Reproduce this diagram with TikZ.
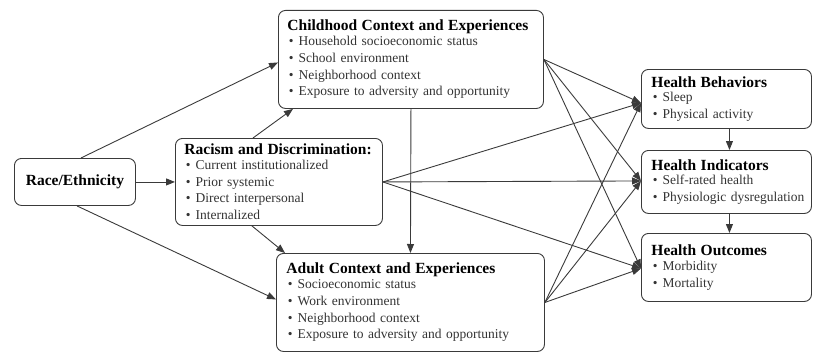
\documentclass[tikz,border=0pt]{standalone}
\usepackage{fontspec}
\setmainfont{Liberation Serif}
\usetikzlibrary{arrows.meta,calc}
\definecolor{linec}{HTML}{3A3A3A}
\definecolor{txtc}{HTML}{333333}
\newcommand\fb[1]{\mbox{\hspace*{1.5pt}\textbullet\hspace{5pt}#1}}
\newcommand\bul[1]{\\\fb{#1}}
\newcommand\ttl[1]{\mbox{\fontsize{15.5}{16.7}\selectfont\bfseries\color{black}#1}}
\tikzset{
  box/.style={draw=linec, line width=0.9pt, rounded corners=7pt, anchor=north west,
    align=left, inner xsep=10pt, inner ysep=2pt, text=txtc,
    font=\fontsize{13.5}{16.7}\selectfont},
  arr/.style={draw=linec, line width=0.9pt, -{Triangle[length=9pt,width=7pt]}},
}
\begin{document}
\begin{tikzpicture}[x=1pt,y=-1pt]
\useasboundingbox (0,0) rectangle (813,353);
\node[box, minimum width=121pt, minimum height=47pt, text width=101pt, align=center] (race) at (14,158)
  {\ttl{Race/Ethnicity}};
\node[box, minimum width=207pt, minimum height=87pt, text width=189pt, inner xsep=9pt] (racism) at (175,138)
  {\ttl{Racism and Discrimination:}\\[-2pt]\fb{Current institutionalized}\bul{Prior systemic}\bul{Direct interpersonal}\bul{Internalized}};
\node[box, minimum width=265pt, minimum height=98pt, text width=247pt, inner xsep=9pt] (child) at (278,10)
  {\ttl{Childhood Context and Experiences}\\[-2pt]\fb{Household socioeconomic status}\bul{School environment}\bul{Neighborhood context}\bul{Exposure to adversity and opportunity}};
\node[box, minimum width=268pt, minimum height=98pt, text width=248pt] (adult) at (276,253)
  {\ttl{Adult Context and Experiences}\\[-2pt]\fb{Socioeconomic status}\bul{Work environment}\bul{Neighborhood context}\bul{Exposure to adversity and opportunity}};
\node[box, minimum width=170pt, minimum height=59pt, text width=150pt] (hb) at (641,69)
  {\ttl{Health Behaviors}\\[-2pt]\fb{Sleep}\bul{Physical activity}};
\node[box, minimum width=170pt, minimum height=63pt, text width=150pt] (hi) at (641,150)
  {\ttl{Health Indicators}\\[-2pt]\fb{Self-rated health}\bul{Physiologic dysregulation}};
\node[box, minimum width=170pt, minimum height=68pt, text width=150pt] (ho) at (641,233)
  {\ttl{Health Outcomes}\\[-2pt]\fb{Morbidity}\bul{Mortality}};
% target points
\coordinate (hbin) at ($(hb.west)+(0,4)$);
\coordinate (hiin) at ($(hi.west)+(0,-1)$);
\coordinate (hoin) at ($(ho.west)+(0,1)$);
% left arrows
\draw[arr] ($(race.north)+(6,0)$) -- ($(child.west)+(0,3)$);
\draw[arr] (race.east) -- (racism.west |- race.east);
\draw[arr] ($(race.south)+(2,0)$) -- ($(adult.west)+(0,-3)$);
\draw[arr] ($(racism.north)+(-26,0)$) -- ($(child.south west)+(15,0)$);
\draw[arr] ($(racism.south)+(-27,0)$) -- ($(adult.north west)+(9,0)$);
\draw[arr] (child.south) -- (adult.north);
% fan to the right
\foreach \s in {racism.east, child.east, adult.east}{
  \draw[arr] (\s) -- (hbin);
  \draw[arr] (\s) -- (hiin);
  \draw[arr] (\s) -- (hoin);
}
\draw[arr] ($(hb.south)+(3,0)$) -- ($(hi.north)+(3,0)$);
\draw[arr] ($(hi.south)+(3,0)$) -- ($(ho.north)+(3,0)$);
\end{tikzpicture}
\end{document}
